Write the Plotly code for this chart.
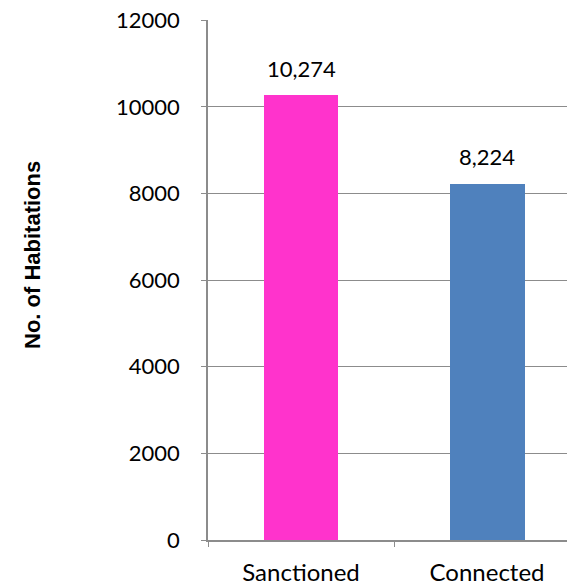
import plotly.graph_objects as go

categories = ["Sanctioned", "Connected"]
values = [10274, 8224]
colors = ["#FF33CC", "#4F81BD"]
y_ticks = [0, 2000, 4000, 6000, 8000, 10000, 12000]

# page body has an 8px default margin, so the figure is offset by 8px
W, H = 567, 577
L, R, T, B = 200, 0, 12, 45
FONT = "Lato, Open Sans, sans-serif"

fig = go.Figure()
fig.add_trace(go.Bar(
    x=categories, y=values,
    marker=dict(color=colors, line=dict(width=0)),
    width=0.403,
))
for c, v in zip(categories, values):
    fig.add_annotation(
        x=c, y=v, text=f"{v:,}", showarrow=False,
        yanchor="middle", yshift=27,
        font=dict(family=FONT, size=22, color="#000000"),
    )

fig.update_layout(
    width=W, height=H,
    margin=dict(l=L, r=R, t=T, b=B, autoexpand=False),
    plot_bgcolor="white", paper_bgcolor="white",
    showlegend=False,
    font=dict(family=FONT, color="#000000"),
    bargap=0,
)
fig.update_yaxes(
    range=[0, 12006], tickvals=y_ticks, ticktext=[str(v) for v in y_ticks],
    showgrid=True, gridcolor="#8C8C8C", gridwidth=1,
    showline=True, linecolor="#8C8C8C", linewidth=1.5,
    ticks="outside", ticklen=5, tickcolor="#8C8C8C",
    tickfont=dict(size=22), ticklabelstandoff=17, ticklabeloverflow="allow",
    zeroline=False, automargin=False,
)
fig.update_xaxes(
    range=[-0.5, 1.473],
    showline=True, linecolor="#8C8C8C", linewidth=1.5,
    ticks="outside", ticklen=5, tickcolor="#8C8C8C", tickson="boundaries",
    tickfont=dict(size=24), ticklabelstandoff=10,
    showgrid=False, automargin=False,
)
fig.add_annotation(
    text="<b>No. of Habitations</b>", textangle=-90,
    xref="paper", yref="paper", x=(25 - L) / (W - L - R), y=(532 - 247) / (532 - T),
    showarrow=False, font=dict(family="Liberation Sans, Arial, sans-serif", size=22),
    xanchor="center", yanchor="middle",
)
fig.write_html("out.html")
